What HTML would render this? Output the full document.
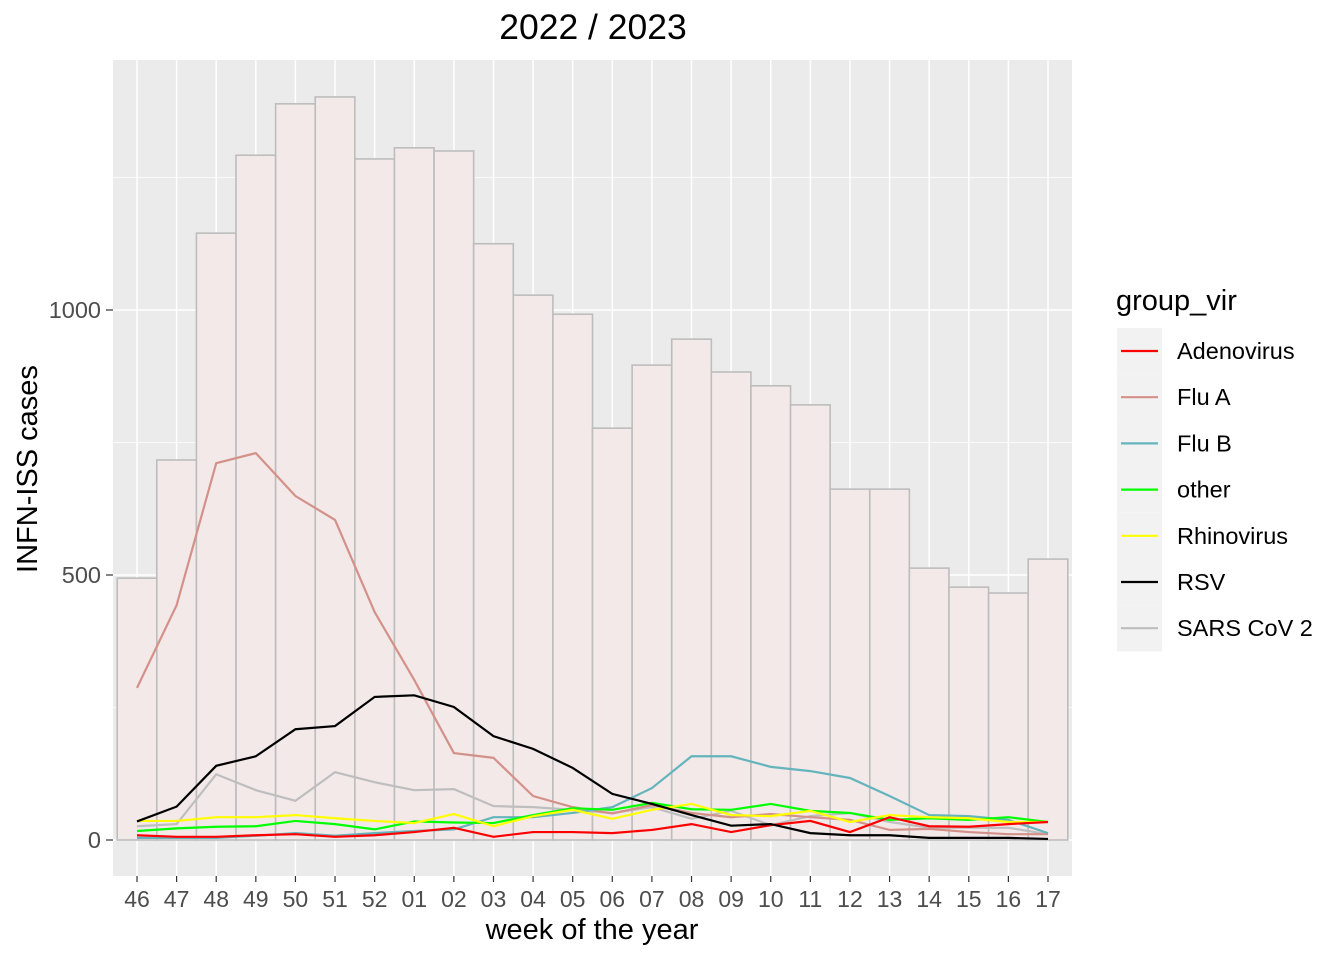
<!DOCTYPE html>
<html><head><meta charset="utf-8"><style>body{margin:0;background:#fff}svg{display:block;font-family:"Liberation Sans",sans-serif}</style></head>
<body>
<svg id="c" width="1344" height="960"></svg>
<script>
const weeks=["46","47","48","49","50","51","52","01","02","03","04","05","06","07","08","09","10","11","12","13","14","15","16","17"];
const totals=[494,717,1145,1292,1389,1402,1285,1306,1300,1125,1028,992,777,896,945,883,857,821,662,662,513,477,466,530];
const adeno=[9,6,6,9,11,6,9,15,23,6,15,15,13,19,30,15,28,36,15,43,26,25,30,34];
const fluA=[287,443,711,730,649,604,430,302,164,155,83,62,50,66,51,43,49,43,38,19,21,15,11,11];
const fluB=[4,4,4,8,13,8,13,17,20,43,43,51,62,98,158,158,138,130,117,83,47,45,38,13];
const other=[17,22,25,26,36,30,20,35,33,32,47,60,57,70,58,57,68,55,51,38,41,38,43,34];
const rhino=[36,36,43,43,47,41,36,32,49,26,45,57,40,57,68,47,45,55,34,47,43,41,34,34];
const rsv=[35,63,140,158,209,215,270,273,251,196,172,136,87,68,47,27,30,13,9,9,4,4,4,2];
const sars=[26,30,124,94,74,128,109,94,96,64,62,57,51,62,40,55,28,45,51,34,23,23,23,11];
const seriesNames=["Adenovirus","Flu A","Flu B","other","Rhinovirus","RSV","SARS CoV 2"];
const seriesColors=["#ff0000","#d4918a","#64b4bc","#00ff00","#ffff00","#000000","#bebebe"];
const yTicks=[0,500,1000];
const NS="http://www.w3.org/2000/svg";
const svg=document.getElementById('c');
const L=113,R=1072,T=60,B=876;
const x=i=>137+i*(1048-137)/23;
const y=v=>840-v*0.53;
const bw=(1048-137)/23;
function el(t,a,p){const e=document.createElementNS(NS,t);for(const k in a)e.setAttribute(k,a[k]);(p||svg).appendChild(e);return e;}
const panel=el('rect',{x:L,y:T,width:R-L,height:B-T,fill:'#ebebeb'});


[250,750,1250].forEach(v=>el('line',{x1:L,x2:R,y1:y(v),y2:y(v),stroke:'#fff','stroke-width':0.7}));
yTicks.forEach(v=>el('line',{x1:L,x2:R,y1:y(v),y2:y(v),stroke:'#fff','stroke-width':1.5}));
weeks.forEach((w,i)=>el('line',{x1:x(i),x2:x(i),y1:T,y2:B,stroke:'#fff','stroke-width':1.5}));
totals.forEach((v,i)=>{
 const r=el('rect',{x:x(i)-bw/2,y:y(v),width:bw,height:y(0)-y(v),fill:'#f3e9e9',stroke:'#bdbdbd','stroke-width':1.6});
 
 
});
const all=[adeno,fluA,fluB,other,rhino,rsv,sars];
const order=[6,1,2,3,4,0,5];
order.forEach(s=>{
 const p=el('polyline',{points:all[s].map((v,i)=>x(i)+','+y(v)).join(' '),fill:'none',stroke:seriesColors[s],'stroke-width':2.2});
 
 
});
yTicks.forEach(v=>{
 el('line',{x1:106,x2:113,y1:y(v),y2:y(v),stroke:'#333','stroke-width':1.2});
 const t=el('text',{x:101,y:y(v)+8,'text-anchor':'end','font-size':23.5,fill:'#4d4d4d'});t.textContent=v;
 
 
});
weeks.forEach((w,i)=>{
 el('line',{x1:x(i),x2:x(i),y1:B,y2:B+6,stroke:'#333','stroke-width':1.2});
 const t=el('text',{x:x(i),y:907,'text-anchor':'middle','font-size':23,fill:'#4d4d4d'});t.textContent=w;
 
 
});
let t=el('text',{x:593,y:39,'text-anchor':'middle','font-size':35.5,fill:'#000'});t.textContent='2022 / 2023';


t=el('text',{x:592,y:939,'text-anchor':'middle','font-size':29,fill:'#000'});t.textContent='week of the year';


t=el('text',{x:0,y:0,'text-anchor':'middle','font-size':29,fill:'#000',transform:'translate(37,469) rotate(-90)'});t.textContent='INFN-ISS cases';


t=el('text',{x:1116,y:310,'font-size':29,fill:'#000'});t.textContent='group_vir';


seriesNames.forEach((n,i)=>{
 const cy=351+i*46.2;
 const g=el('g',{});
 
 
 el('rect',{x:1117,y:cy-23,width:45,height:46.2,fill:'#f2f2f2'},g);
 el('line',{x1:1121,x2:1158,y1:cy,y2:cy,stroke:seriesColors[i],'stroke-width':2.2},g);
 const tt=el('text',{x:1177,y:cy+8,'font-size':23.5,fill:'#000'},g);tt.textContent=n;
});
</script>
</body></html>
